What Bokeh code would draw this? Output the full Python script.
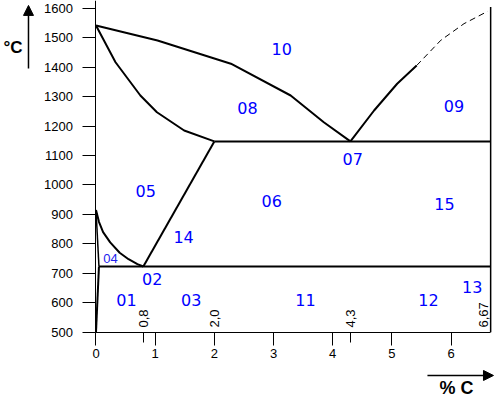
from math import pi
from bokeh.plotting import figure
from bokeh.models import Range1d, FixedTicker, ColumnDataSource, Arrow, NormalHead
from bokeh.core.properties import value
from bokeh.embed import file_html
from bokeh.resources import INLINE

# ---- data (carbon % , temperature degC) ----
liquidus_c = [0.0, 1.04, 2.28, 3.29, 3.85, 4.3]
liquidus_t = [1542, 1491, 1412, 1304, 1213, 1148]
solidus_c = [0.0, 0.33, 0.75, 1.03, 1.49, 2.0]
solidus_t = [1542, 1417, 1304, 1247, 1185, 1148]
hyper_c = [4.3, 4.7, 5.09, 5.42]
hyper_t = [1148, 1253, 1344, 1406]
hyper_dash_c = [5.42, 5.83, 6.22, 6.62]
hyper_dash_t = [1406, 1492, 1548, 1590]
eutectic_c = [2.0, 6.67]
eutectic_t = [1148, 1148]
eutectoid_c = [0.05, 6.67]
eutectoid_t = [723, 723]
a3_c = [0.0, 0.05, 0.12, 0.24, 0.4, 0.55, 0.7, 0.8]
a3_t = [915, 875, 840, 805, 770, 748, 731, 723]
acm_c = [0.8, 2.0]
acm_t = [723, 1148]
gp_c = [0.0, 0.05]
gp_t = [915, 723]
pq_c = [0.05, 0.0]
pq_t = [723, 500]
border_c = [6.67, 6.67]
border_t = [500, 1605]

region_names = ["10", "08", "09", "07", "05", "06", "15", "14",
                "02", "01", "03", "11", "12", "13"]
region_c = [3.14, 2.56, 6.05, 4.34, 0.84, 2.97, 5.89, 1.48,
            0.95, 0.515, 1.61, 3.54, 5.62, 6.36]
region_t = [1463, 1261, 1268, 1087, 979, 944, 934, 822,
            681, 610, 608, 608, 608, 655]
small_region_names = ["04"]
small_region_c = [0.245]
small_region_t = [749]

x_ticks = [0, 1, 2, 3, 4, 5, 6]
y_ticks = [500, 600, 700, 800, 900, 1000, 1100, 1200, 1300, 1400, 1500, 1600]
mark_c = [0.8, 2.0, 4.3]
mark_labels = ["0,8", "2,0", "4,3"]
end_c = [6.62]
end_labels = ["6,67"]

p = figure(width=496, height=401, output_backend="svg", toolbar_location=None,
           title=None,
           x_range=Range1d(-1.614, 6.769), y_range=Range1d(264.6, 1626.7),
           min_border=0, min_border_left=0, min_border_right=0,
           min_border_top=0, min_border_bottom=0)
p.outline_line_color = None
p.grid.visible = False
p.background_fill_color = "white"
p.border_fill_color = "white"

for ax in (p.xaxis[0], p.yaxis[0]):
    ax.axis_line_color = "black"
    ax.axis_line_width = 1
    ax.major_tick_line_color = "black"
    ax.major_tick_in = 0
    ax.major_tick_out = 13
    ax.major_label_text_font = "Liberation Sans"
    ax.major_label_text_font_size = "13px"
    ax.major_label_text_color = "black"

p.xaxis.fixed_location = 500
p.xaxis.bounds = (0, 6.67)
p.xaxis.ticker = FixedTicker(ticks=x_ticks, minor_ticks=[0.8, 4.3])
p.xaxis.minor_tick_in = 0
p.xaxis.minor_tick_out = 10
p.xaxis.minor_tick_line_color = "black"
p.xaxis.major_label_standoff = 4

p.yaxis.fixed_location = 0
p.yaxis.bounds = (500, 1626)
p.yaxis.ticker = FixedTicker(ticks=y_ticks, minor_ticks=[])
p.yaxis.minor_tick_line_color = None
p.yaxis.major_label_standoff = 10

lw = 2
p.line(liquidus_c, liquidus_t, line_color="black", line_width=lw)
p.line(solidus_c, solidus_t, line_color="black", line_width=lw)
p.line(hyper_c, hyper_t, line_color="black", line_width=lw)
p.line(hyper_dash_c, hyper_dash_t, line_color="black", line_width=1, line_dash="6 4")
p.line(eutectic_c, eutectic_t, line_color="black", line_width=lw)
p.line(eutectoid_c, eutectoid_t, line_color="black", line_width=lw)
p.line(a3_c, a3_t, line_color="black", line_width=lw)
p.line(acm_c, acm_t, line_color="black", line_width=lw)
p.line(gp_c, gp_t, line_color="black", line_width=1.5)
p.line(pq_c, pq_t, line_color="black", line_width=2)
p.line(border_c, border_t, line_color="black", line_width=1.5)

src = ColumnDataSource(dict(x=region_c, y=region_t, t=region_names))
p.text(x="x", y="y", text="t", source=src, text_color="#0000ff",
       text_font=value("DejaVu Sans"), text_font_size="16px",
       text_align="center", text_baseline="middle")
src2 = ColumnDataSource(dict(x=small_region_c, y=small_region_t, t=small_region_names))
p.text(x="x", y="y", text="t", source=src2, text_color="#2222ee",
       text_font=value("Liberation Sans"), text_font_size="13px",
       text_align="center", text_baseline="middle")

p.text(x=mark_c, y=[516] * len(mark_c), text=mark_labels, angle=pi / 2,
       text_color="black", text_font=value("Liberation Sans"), text_font_size="13px",
       text_align="left", text_baseline="middle")
p.text(x=end_c, y=[516] * len(end_c), text=end_labels, angle=pi / 2,
       text_color="black", text_font=value("Liberation Sans"), text_font_size="13px",
       text_align="left", text_baseline="bottom")

# axis titles with arrows
p.text(x=[-1.563], y=[1467], text=["°C"], text_color="black",
       text_font=value("Liberation Sans"), text_font_size="17px",
       text_font_style="bold", text_align="left", text_baseline="middle")
p.add_layout(Arrow(x_start=-1.141, y_start=1396, x_end=-1.141, y_end=1610,
                   line_color="black", line_width=1.5,
                   end=NormalHead(size=10, fill_color="black", line_color="black")))
p.text(x=[6.093], y=[309], text=["% C"], text_color="black",
       text_font=value("Liberation Sans"), text_font_size="18px",
       text_font_style="bold", text_align="center", text_baseline="middle")
p.add_layout(Arrow(x_start=5.602, y_start=353, x_end=6.718, y_end=353,
                   line_color="black", line_width=1.5,
                   end=NormalHead(size=10, fill_color="black", line_color="black")))

open("out.html", "w").write(file_html(p, INLINE))
